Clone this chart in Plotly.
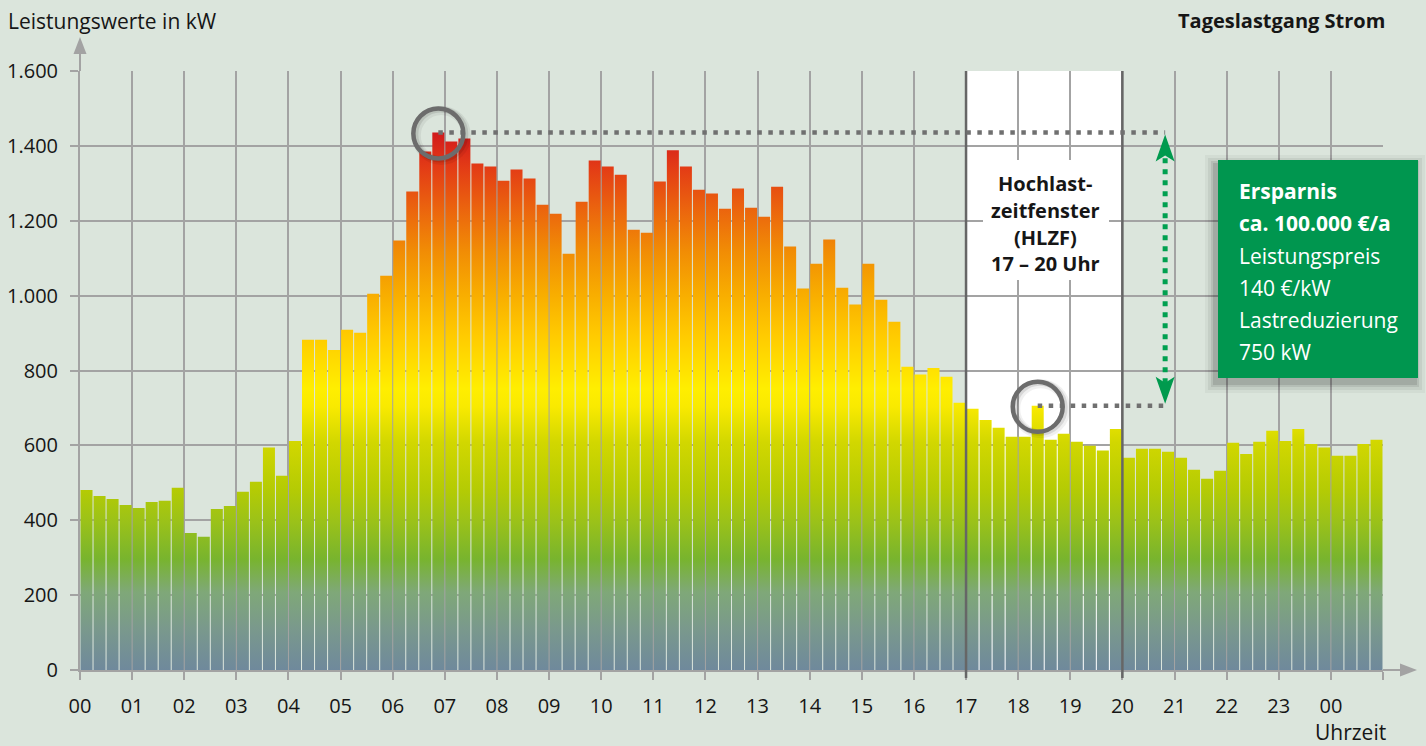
import plotly.graph_objects as go

# ---------------- data ----------------
# 15-minute load values in kW, 00:00 .. 24:45 (25 hours x 4 intervals)
load_kw = [
    481, 465, 457, 441,      # 00
    433, 449, 452, 487,      # 01
    366, 356, 430, 438,      # 02
    476, 503, 594, 519,      # 03
    612, 882, 882, 855,      # 04
    909, 901, 1005, 1053,    # 05
    1147, 1278, 1385, 1436,  # 06
    1412, 1420, 1353, 1345,  # 07
    1307, 1337, 1313, 1243,  # 08
    1219, 1112, 1251, 1361,  # 09
    1345, 1323, 1176, 1168,  # 10
    1305, 1388, 1345, 1283,  # 11
    1273, 1232, 1286, 1235,  # 12
    1211, 1291, 1131, 1019,  # 13
    1085, 1150, 1021, 976,   # 14
    1085, 989, 930, 810,     # 15
    789, 807, 783, 714,      # 16
    698, 668, 647, 623,      # 17
    623, 706, 615, 631,      # 18
    610, 599, 586, 644,      # 19
    567, 591, 591, 583,      # 20
    567, 535, 511, 532,      # 21
    607, 577, 610, 639,      # 22
    612, 644, 604, 594,      # 23
    572, 572, 604, 615,      # 00 (next day)
]
intervals_per_hour = 4
hour_tick_vals = list(range(0, 26))
hour_tick_text = ["00", "01", "02", "03", "04", "05", "06", "07", "08", "09", "10", "11",
                  "12", "13", "14", "15", "16", "17", "18", "19", "20", "21", "22", "23", "00", ""]
y_tick_vals = [0, 200, 400, 600, 800, 1000, 1200, 1400, 1600]
y_tick_text = ["0", "200", "400", "600", "800", "1.000", "1.200", "1.400", "1.600"]
hlzf_start, hlzf_end = 17, 20
hlzf_label = ["Hochlast-", "zeitfenster", "(HLZF)", "17 – 20 Uhr"]
savings_lines = ["<b>Ersparnis</b>", "<b>ca. 100.000 €/a</b>", "Leistungspreis",
                 "140 €/kW", "Lastreduzierung", "750 kW"]
savings_arrow_hour = 20.82

# ---------------- layout constants ----------------
W, H = 1426, 746
PL, PR, PT, PB = 80, 1383, 71, 670
FONT = "Open Sans"
BG = "#dbe5dc"
GRID = "#a3a3a3"
TXT = "#161616"


def pxx(px):
    return (px - PL) / (PR - PL)


def pxy(py):
    return (PB - py) / (PB - PT)


# ---------------- bars as gradient-filled polygons ----------------
slot = 1.0 / intervals_per_hour
gap = 0.078 * slot
xs, ys = [], []
for i, v in enumerate(load_kw):
    l = i * slot + gap / 2
    r = (i + 1) * slot - gap / 2
    xs += [l, r, r, l, l, None]
    ys += [0, 0, v, v, 0, None]

colorscale = [
    [0.00, "#6f899c"], [0.07, "#7a998c"], [0.13, "#7fa878"], [0.185, "#78b42e"],
    [0.25, "#9cc218"], [0.30, "#b4cb04"], [0.38, "#d2d700"], [0.44, "#f9ea00"],
    [0.47, "#ffee00"], [0.56, "#ffca00"], [0.63, "#f8ac00"], [0.70, "#f18c05"],
    [0.77, "#eb640e"], [0.84, "#e33b16"], [0.90, "#d0181c"], [1.00, "#c8101a"],
]

fig = go.Figure()
fig.add_trace(go.Scatter(
    x=xs, y=ys, mode="lines", line=dict(width=0, color="rgba(0,0,0,0)"),
    fill="toself",
    fillgradient=dict(type="vertical", colorscale=colorscale, start=0, stop=1600),
    hoverinfo="skip", showlegend=False,
))

peak_idx = max(range(len(load_kw)), key=lambda k: load_kw[k])
peak_val = load_kw[peak_idx]
hl_lo, hl_hi = hlzf_start * intervals_per_hour, hlzf_end * intervals_per_hour
hl_idx = max(range(hl_lo, hl_hi), key=lambda k: load_kw[k])
hl_val = load_kw[hl_idx]
peak_x = (peak_idx + 0.5) * slot
hl_x = (hl_idx + 0.5) * slot

shapes = []
# white HLZF window (under grid)
shapes.append(dict(type="rect", xref="x", yref="paper", x0=hlzf_start, x1=hlzf_end,
                   y0=0, y1=1, fillcolor="white", line_width=0, layer="below"))
# HLZF boundary lines
for hx in (hlzf_start, hlzf_end):
    shapes.append(dict(type="line", xref="x", yref="paper", x0=hx, x1=hx,
                       y0=-8 / (PB - PT), y1=1, line=dict(color="#666666", width=2.5),
                       layer="above"))
# white label box
shapes.append(dict(type="rect", xref="paper", yref="paper", x0=pxx(983), x1=pxx(1109),
                   y0=pxy(280), y1=pxy(160), fillcolor="white", line_width=0, layer="above"))

# dotted reference lines
for x0, yv in ((peak_x, peak_val), (hl_x, hl_val)):
    shapes.append(dict(type="line", xref="x", yref="y", x0=x0, x1=savings_arrow_hour,
                       y0=yv, y1=yv,
                       line=dict(color="#707070", width=4.5, dash="4.5px,6.5px"), layer="above"))
# green double arrow
shapes.append(dict(type="line", xref="x", yref="y", x0=savings_arrow_hour, x1=savings_arrow_hour,
                   y0=hl_val + 60, y1=peak_val - 60,
                   line=dict(color="#00a050", width=5, dash="5px,6px"), layer="above"))
for yv, sgn in ((peak_val, 1), (hl_val, -1)):
    shapes.append(dict(type="path", xref="x", yref="y", xsizemode="pixel", ysizemode="pixel",
                       xanchor=savings_arrow_hour, yanchor=yv,
                       path=f"M 0,{-2*sgn} L 9.5,{-29*sgn} L 0,{-23*sgn} L -9.5,{-29*sgn} Z",
                       fillcolor="#009a4e", line_width=0, layer="above"))

# circles with soft shadow
for cx, cy in ((peak_x, peak_val), (hl_x, hl_val)):
    for off, wdt, col in ((3, 9, "rgba(0,0,0,0.06)"), (2, 6, "rgba(0,0,0,0.10)")):
        shapes.append(dict(type="circle", xref="x", yref="y", xsizemode="pixel",
                           ysizemode="pixel", xanchor=cx, yanchor=cy,
                           x0=-25 + off, x1=25 + off, y0=-25 - off, y1=25 - off,
                           line=dict(color=col, width=wdt), layer="above"))
    shapes.append(dict(type="circle", xref="x", yref="y", xsizemode="pixel", ysizemode="pixel",
                       xanchor=cx, yanchor=cy - 3, x0=-25, x1=25, y0=-25, y1=25,
                       line=dict(color="#6c6c6c", width=4.5), layer="above"))

# green savings box with shadow
for k, a in ((10, 0.04), (7, 0.06), (4, 0.08), (2, 0.10)):
    shapes.append(dict(type="rect", xref="paper", yref="paper",
                       x0=pxx(1218 - 3 - k), x1=pxx(1418 - 3 + k),
                       y0=pxy(378 + 5 + k), y1=pxy(160 + 5 - k),
                       fillcolor=f"rgba(0,0,0,{a})", line_width=0, layer="above"))
shapes.append(dict(type="rect", xref="paper", yref="paper", x0=pxx(1218), x1=pxx(1418),
                   y0=pxy(378), y1=pxy(160), fillcolor="#00964f", line_width=0, layer="above"))

# axis arrows (paper-referenced so they are not clipped)
shapes.append(dict(type="line", xref="paper", yref="paper", ysizemode="pixel", yanchor=1,
                   x0=0, x1=0, y0=0, y1=22, line=dict(color=GRID, width=2)))
shapes.append(dict(type="path", xref="paper", yref="paper", xsizemode="pixel", ysizemode="pixel",
                   xanchor=0, yanchor=1, path="M 0,34 L 6.5,17 L -6.5,17 Z",
                   fillcolor=GRID, line_width=0))
shapes.append(dict(type="line", xref="paper", yref="paper", xsizemode="pixel", xanchor=1,
                   x0=0, x1=22, y0=0, y1=0, line=dict(color=GRID, width=2)))
shapes.append(dict(type="path", xref="paper", yref="paper", xsizemode="pixel", ysizemode="pixel",
                   xanchor=1, yanchor=0, path="M 34,0 L 17,6.5 L 17,-6.5 Z",
                   fillcolor=GRID, line_width=0))

annotations = []
annotations.append(dict(text="Leistungswerte in kW", xref="paper", yref="paper",
                        x=pxx(6), y=pxy(21), xanchor="left", yanchor="middle", showarrow=False,
                        font=dict(family=FONT, size=21, color=TXT)))
annotations.append(dict(text="<b>Tageslastgang Strom</b>", xref="paper", yref="paper",
                        x=pxx(1387), y=pxy(21), xanchor="right", yanchor="middle",
                        showarrow=False, font=dict(family=FONT, size=20, color=TXT)))
annotations.append(dict(text="Uhrzeit", xref="paper", yref="paper",
                        x=pxx(1388), y=pxy(732), xanchor="right", yanchor="middle",
                        showarrow=False, font=dict(family=FONT, size=21, color=TXT)))
for line, py in zip(hlzf_label, (183, 211, 237, 263)):
    annotations.append(dict(text=f"<b>{line}</b>", xref="paper", yref="paper",
                            x=pxx(1045), y=pxy(py), xanchor="center", yanchor="middle",
                            showarrow=False, font=dict(family=FONT, size=20, color=TXT)))
for line, py in zip(savings_lines, (191, 223, 256, 288, 320, 352)):
    annotations.append(dict(text=line, xref="paper", yref="paper",
                            x=pxx(1237), y=pxy(py), xanchor="left", yanchor="middle",
                            showarrow=False, font=dict(family=FONT, size=21, color="white")))

fig.update_layout(
    width=W, height=H,
    margin=dict(l=PL, r=W - PR, t=PT, b=H - PB, pad=0, autoexpand=False),
    paper_bgcolor=BG, plot_bgcolor=BG,
    showlegend=False,
    font=dict(family=FONT, size=20, color=TXT),
    shapes=shapes, annotations=annotations,
    xaxis=dict(range=[0, 25], tickmode="array", tickvals=hour_tick_vals, ticktext=hour_tick_text,
               showgrid=True, gridcolor=GRID, gridwidth=1.6, zeroline=False,
               showline=True, linecolor=GRID, linewidth=2, automargin=False,
               ticks="outside", ticklen=8, tickwidth=1.6, tickcolor=GRID,
               ticklabelstandoff=9, tickfont=dict(family=FONT, size=20, color=TXT),
               fixedrange=True),
    yaxis=dict(range=[0, 1600], tickmode="array", tickvals=y_tick_vals, ticktext=y_tick_text,
               showgrid=True, gridcolor=GRID, gridwidth=1.6, zeroline=False,
               showline=True, linecolor=GRID, linewidth=2, automargin=False,
               ticks="outside", ticklen=8, tickwidth=1.6, tickcolor=GRID,
               ticklabelstandoff=8, tickfont=dict(family=FONT, size=20, color=TXT),
               fixedrange=True),
)

fig.write_html("out.html", config={"displayModeBar": False},
               post_script="document.body.style.margin='0';")
